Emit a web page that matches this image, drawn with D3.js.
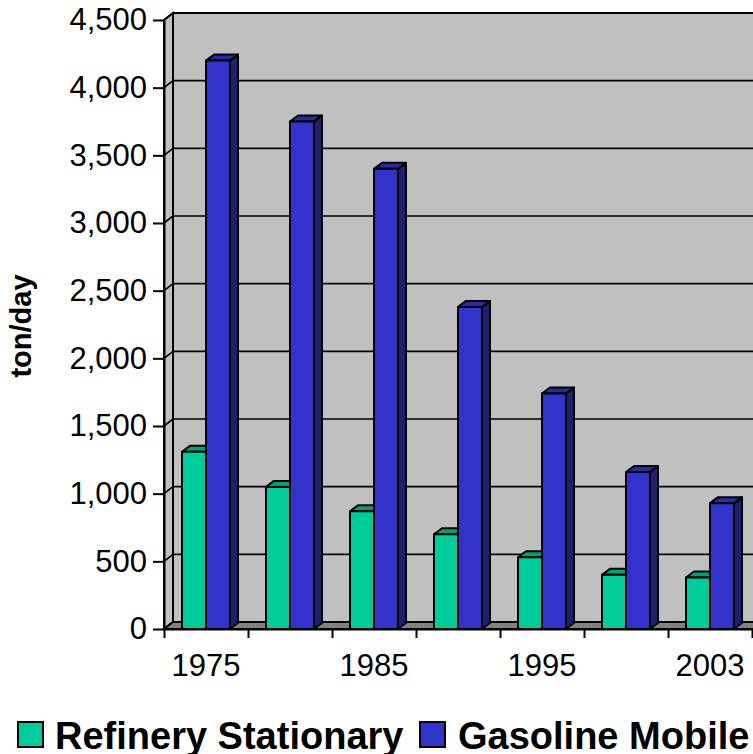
<!DOCTYPE html>
<html>
<head>
<meta charset="utf-8">
<script src="https://cdn.jsdelivr.net/npm/d3@7/dist/d3.min.js"></script>
<style>
  html, body { margin: 0; padding: 0; background: #fff; }
  svg { display: block; }
  text { font-family: Arial, "Liberation Sans", sans-serif; fill: #000; }
</style>
</head>
<body>
<svg id="chart" width="753" height="754"></svg>
<script>
// Daily emissions (ton/day) by source, selected years
const categories = ["1975", "1980", "1985", "1990", "1995", "2000", "2003"];
const refineryStationary = [1310, 1050, 870, 700, 530, 400, 380];
const gasolineMobile = [4200, 3750, 3400, 2380, 1740, 1160, 930];
const seriesNames = ["Refinery Stationary", "Gasoline Mobile"];
const yTickValues = [0, 500, 1000, 1500, 2000, 2500, 3000, 3500, 4000, 4500];
const xLabelled = ["1975", "1985", "1995", "2003"];

const palette = [
  { front: "#00CC99", top: "#00A078", side: "#007A5C" },
  { front: "#3333CC", top: "#2A2AA6", side: "#1F1F6E" }
];

const svg = d3.select("#chart");

// layout of the 3-D box
const plot = { left: 164, right: 752, top: 20, bottom: 629 };
const wallDX = 9, wallDY = -7;   // depth of the walls
const barDX = 8, barDY = -6;     // depth of each column

const y = d3.scaleLinear().domain([0, 4500]).range([plot.bottom, plot.top]);
const x = d3.scaleBand().domain(categories).range([plot.left, plot.right]).padding(0);
const xInner = d3.scaleBand().domain(seriesNames)
  .range([0, x.bandwidth()]).paddingInner(0).paddingOuter(0.75);

const poly = pts => "M" + pts.map(p => p.join(",")).join("L") + "Z";

// back wall
svg.append("rect")
  .attr("x", plot.left + wallDX).attr("y", plot.top + wallDY)
  .attr("width", plot.right - plot.left + 20)
  .attr("height", plot.bottom - plot.top)
  .attr("fill", "#C0C0C0").attr("stroke", "#000").attr("stroke-width", 2);

// gridlines on the back wall
svg.append("g").selectAll("line")
  .data(yTickValues.filter(v => v > 0))
  .join("line")
  .attr("x1", plot.left + wallDX).attr("x2", plot.right + wallDX + 20)
  .attr("y1", d => y(d) + wallDY).attr("y2", d => y(d) + wallDY)
  .attr("stroke", "#000").attr("stroke-width", 1.6);

// left side wall
svg.append("path")
  .attr("d", poly([
    [plot.left, plot.top], [plot.left + wallDX, plot.top + wallDY],
    [plot.left + wallDX, plot.bottom + wallDY], [plot.left, plot.bottom]
  ]))
  .attr("fill", "#C0C0C0").attr("stroke", "#000").attr("stroke-width", 2);

// gridline returns across the side wall
svg.append("g").selectAll("line")
  .data(yTickValues)
  .join("line")
  .attr("x1", plot.left).attr("x2", plot.left + wallDX)
  .attr("y1", d => y(d)).attr("y2", d => y(d) + wallDY)
  .attr("stroke", "#000").attr("stroke-width", 1.6);

// floor
svg.append("path")
  .attr("d", poly([
    [plot.left, plot.bottom], [plot.right + 20, plot.bottom],
    [plot.right + 20 + wallDX, plot.bottom + wallDY], [plot.left + wallDX, plot.bottom + wallDY]
  ]))
  .attr("fill", "#808080").attr("stroke", "#000").attr("stroke-width", 2);

// columns
const series = [refineryStationary, gasolineMobile];
const bars = svg.append("g");
categories.forEach((cat, i) => {
  series.forEach((vals, s) => {
    const x0 = x(cat) + xInner(seriesNames[s]);
    const x1 = x0 + xInner.bandwidth();
    const yt = y(vals[i]), yb = y(0);
    const c = palette[s];
    const g = bars.append("g")
      .attr("stroke", "#000").attr("stroke-width", 2).attr("stroke-linejoin", "round");
    g.append("path")
      .attr("d", poly([[x1, yt], [x1 + barDX, yt + barDY], [x1 + barDX, yb + barDY], [x1, yb]]))
      .attr("fill", c.side);
    g.append("path")
      .attr("d", poly([[x0, yt], [x0 + barDX, yt + barDY], [x1 + barDX, yt + barDY], [x1, yt]]))
      .attr("fill", c.top);
    g.append("rect")
      .attr("x", x0).attr("y", yt).attr("width", x1 - x0).attr("height", yb - yt)
      .attr("fill", c.front);
  });
});

// value axis
const yAxis = svg.append("g")
  .attr("transform", `translate(${plot.left},0)`)
  .call(d3.axisLeft(y).tickValues(yTickValues).tickFormat(d3.format(","))
    .tickSize(11).tickSizeOuter(0).tickPadding(6));
yAxis.select(".domain").attr("stroke-width", 2);
yAxis.selectAll(".tick line").attr("stroke-width", 2);
yAxis.selectAll(".tick text").attr("font-size", 31).attr("font-family", "Arial, 'Liberation Sans', sans-serif");

// category axis: boundary ticks
const xBounds = d3.scaleLinear().domain([0, categories.length]).range([plot.left, plot.right]);
const xTicks = svg.append("g")
  .attr("transform", `translate(0,${plot.bottom})`)
  .call(d3.axisBottom(xBounds).tickValues(d3.range(categories.length + 1))
    .tickFormat("").tickSize(9).tickSizeOuter(0));
xTicks.select(".domain").attr("stroke-width", 2);
xTicks.selectAll(".tick line").attr("stroke-width", 2);

// category labels
const xLabels = svg.append("g")
  .attr("transform", `translate(0,${plot.bottom})`)
  .call(d3.axisBottom(x).tickValues(xLabelled).tickSize(0).tickPadding(25));
xLabels.select(".domain").remove();
xLabels.selectAll(".tick text").attr("font-size", 31)
  .attr("font-family", "Arial, 'Liberation Sans', sans-serif");

// axis title
svg.append("text")
  .attr("transform", "translate(31,326) rotate(-90)")
  .attr("text-anchor", "middle")
  .attr("font-size", 29).attr("font-weight", "bold")
  .text("ton/day");

// legend
const legend = svg.append("g");
const legendItems = [
  { name: seriesNames[0], box: 18, text: 55, color: palette[0].front },
  { name: seriesNames[1], box: 420, text: 458, color: palette[1].front }
];
legendItems.forEach(d => {
  legend.append("rect")
    .attr("x", d.box).attr("y", 722).attr("width", 25).attr("height", 25)
    .attr("fill", d.color).attr("stroke", "#000").attr("stroke-width", 2);
  legend.append("text")
    .attr("x", d.text).attr("y", 749)
    .attr("font-size", 38).attr("font-weight", "bold")
    .text(d.name);
});
</script>
</body>
</html>
